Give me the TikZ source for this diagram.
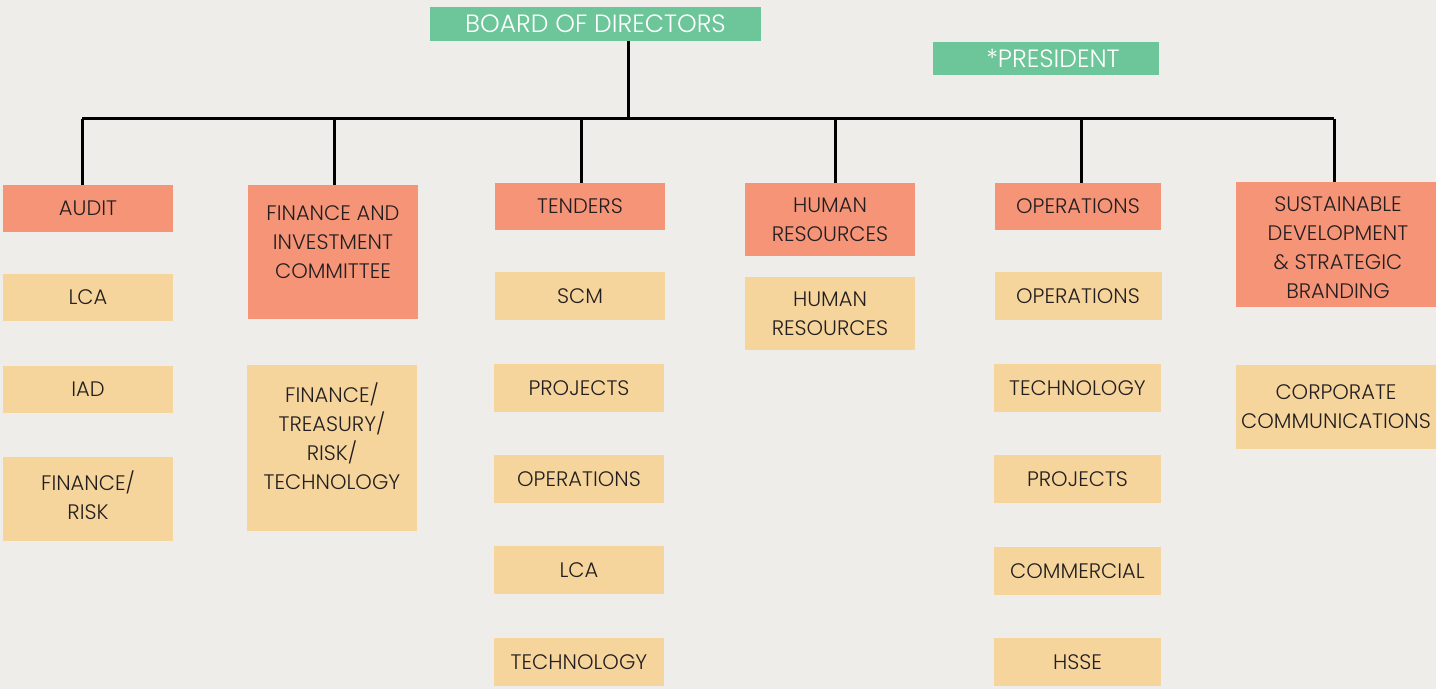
\documentclass[tikz,border=0pt]{standalone}
\usepackage{fontspec}
\IfFontExistsTF{Poppins Light}{\setmainfont{Poppins Light}}{\setmainfont{Poppins}}
\usepackage{tikz}
\usetikzlibrary{calc,positioning}
\definecolor{paper}{HTML}{EFEDEA}
\definecolor{board}{HTML}{6CC69A}
\definecolor{head}{HTML}{F69478}
\definecolor{unit}{HTML}{F6D59C}
\definecolor{ink}{HTML}{231F20}

\begin{document}
\begin{tikzpicture}[x=0.5pt, y=-0.5pt,
    top/.style={fill=board,text=white,inner sep=0pt,font=\fontsize{12.5}{15}\selectfont,minimum width=165.5pt,minimum height=17pt},
    dept/.style={fill=head,text=ink,inner sep=0pt,align=center,font=\fontsize{10.5}{14.5}\selectfont,minimum width=85pt,minimum height=23.5pt},
    sub/.style={dept,fill=unit},
    txt/.style={text=ink,align=center,font=\fontsize{10.5}{14.5}\selectfont},
    wire/.style={line width=1.5pt,black}]
    \fill[paper] (0,0) rectangle (1436,689);

    \node[top] (bod) at (595.5,24) {BOARD OF DIRECTORS};
    \node[top,minimum width=113pt,minimum height=16.5pt] (pres) at (1046,58.5) {\hspace*{7pt}*PRESIDENT};

    % committees
    \node[dept] (c1) at (88,208.5) {AUDIT};
    \node[dept,minimum height=67pt] (c2) at (333,252) {};
    \node[txt] at (333,242) {FINANCE AND\\INVESTMENT\\COMMITTEE};
    \node[dept] (c3) at (580,206.5) {TENDERS};
    \node[dept,minimum height=36.5pt] (c4) at (830,219.5) {HUMAN\\RESOURCES};
    \node[dept,minimum width=83pt] (c5) at (1078,206.5) {OPERATIONS};
    \node[dept,minimum width=100pt,minimum height=62.5pt] (c6) at (1336,244.5) {};
    \node[txt] at (1338,248) {SUSTAINABLE\\DEVELOPMENT\\\& STRATEGIC\\BRANDING};

    % members
    \node[sub] (a1) at (88,297.5) {LCA};
    \node[sub] (a2) at (88,389.5) {IAD};
    \node[sub,minimum height=42pt] (a3) at (88,499) {};
    \node[txt] at (88,495) {FINANCE/\\RISK};

    \node[sub,minimum height=83pt] (b1) at (332,448) {};
    \node[txt] at (332,436) {FINANCE/\\TREASURY/\\RISK/\\TECHNOLOGY};

    \node[sub,minimum height=24pt] (d1) at (580,296.5) {SCM};
    \node[sub,minimum height=24pt] (d2) at (579,388.5) {PROJECTS};
    \node[sub,minimum height=24pt] (d3) at (579,479) {OPERATIONS};
    \node[sub,minimum height=24pt] (d4) at (579,570) {LCA};
    \node[sub,minimum height=24pt] (d5) at (579,662) {TECHNOLOGY};

    \node[sub,minimum height=36.5pt] (e1) at (830,313.5) {HUMAN\\RESOURCES};

    \node[sub,minimum width=83.5pt,minimum height=24pt] (f1) at (1078,296.5) {OPERATIONS};
    \node[sub,minimum width=83.5pt,minimum height=24pt] (f2) at (1077.5,388.5) {TECHNOLOGY};
    \node[sub,minimum width=83.5pt,minimum height=24pt] (f3) at (1077.5,479) {PROJECTS};
    \node[sub,minimum width=83.5pt,minimum height=24pt] (f4) at (1077.5,571) {COMMERCIAL};
    \node[sub,minimum width=83.5pt,minimum height=24pt] (f5) at (1077.5,662) {HSSE};

    \node[sub,minimum width=100pt,minimum height=42pt] (g1) at (1336,407) {CORPORATE\\COMMUNICATIONS};

    % lines
    \coordinate (hub) at (628,119);
    \coordinate (t1) at (82,119);
    \coordinate (t2) at (334,119);
    \coordinate (t3) at (581,119);
    \coordinate (t4) at (835,119);
    \coordinate (t5) at (1081,119);
    \coordinate (t6) at (1334,119);
    \draw[wire] (hub |- bod.south) -- (hub);
    \draw[wire] (t1) -- (t6);
    \draw[wire] (t1) -- (t1 |- c1.north);
    \draw[wire] (t2) -- (t2 |- c2.north);
    \draw[wire] (t3) -- (t3 |- c3.north);
    \draw[wire] (t4) -- (t4 |- c4.north);
    \draw[wire] (t5) -- (t5 |- c5.north);
    \draw[wire] (t6) -- (t6 |- c6.north);
  \end{tikzpicture}
\end{document}
